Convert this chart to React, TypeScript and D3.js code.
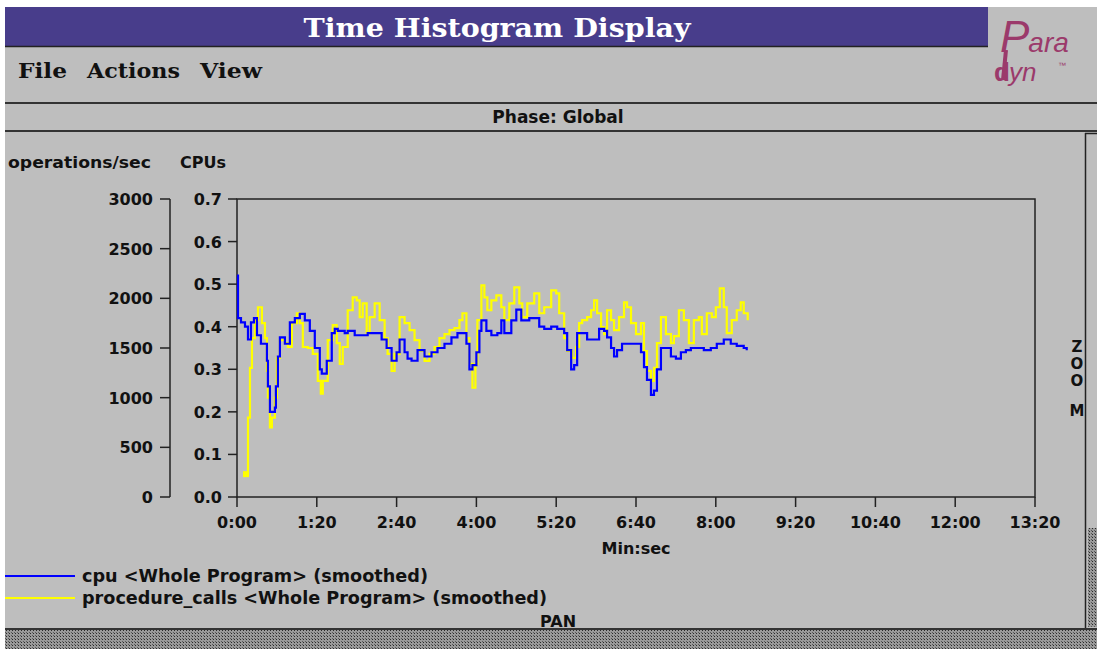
import React from "react";
import * as d3 from "d3";

// cpu <Whole Program> (smoothed): seconds -> CPUs
const cpuTime = [0, 1, 4, 8, 11, 14, 17, 20, 24, 28, 30, 31, 33, 36, 38, 39, 41, 43, 48, 53, 58, 63, 68, 73, 78, 83, 85, 90, 95, 98, 101, 108, 111, 118, 125, 131, 138, 145, 150, 155, 160, 163, 168, 171, 175, 181, 188, 195, 201, 208, 215, 221, 226, 230, 233, 236, 240, 243, 245, 250, 255, 261, 265, 268, 275, 280, 285, 290, 293, 298, 303, 308, 315, 321, 328, 331, 335, 338, 341, 345, 351, 358, 363, 368, 371, 375, 378, 381, 386, 393, 400, 405, 408, 411, 415, 418, 421, 425, 430, 435, 440, 445, 450, 455, 461, 468, 475, 481, 488, 495, 501, 508, 511];
const cpuValues = [0.52, 0.42, 0.41, 0.4, 0.37, 0.41, 0.42, 0.38, 0.36, 0.36, 0.32, 0.26, 0.2, 0.2, 0.21, 0.26, 0.33, 0.375, 0.36, 0.41, 0.42, 0.43, 0.415, 0.39, 0.35, 0.3, 0.29, 0.32, 0.385, 0.395, 0.39, 0.385, 0.39, 0.38, 0.38, 0.385, 0.385, 0.37, 0.35, 0.32, 0.34, 0.37, 0.34, 0.325, 0.32, 0.345, 0.33, 0.34, 0.35, 0.36, 0.375, 0.385, 0.385, 0.36, 0.3, 0.31, 0.34, 0.39, 0.415, 0.39, 0.38, 0.385, 0.415, 0.385, 0.415, 0.44, 0.415, 0.415, 0.42, 0.42, 0.4, 0.395, 0.4, 0.395, 0.385, 0.345, 0.3, 0.31, 0.385, 0.385, 0.37, 0.37, 0.395, 0.39, 0.375, 0.35, 0.33, 0.345, 0.36, 0.36, 0.36, 0.34, 0.305, 0.275, 0.24, 0.25, 0.3, 0.35, 0.35, 0.33, 0.325, 0.34, 0.345, 0.35, 0.35, 0.345, 0.35, 0.36, 0.37, 0.36, 0.355, 0.35, 0.345];

// procedure_calls <Whole Program> (smoothed): seconds -> operations/sec
const callsTime = [7, 10, 11, 13, 15, 18, 21, 25, 28, 30, 31, 33, 35, 38, 40, 43, 48, 51, 55, 60, 63, 66, 71, 76, 81, 84, 86, 91, 96, 100, 103, 106, 111, 116, 120, 123, 126, 130, 133, 138, 143, 148, 151, 155, 158, 163, 168, 173, 178, 183, 188, 193, 198, 203, 208, 213, 218, 223, 226, 230, 233, 236, 239, 241, 245, 248, 251, 255, 260, 265, 268, 273, 278, 283, 286, 291, 298, 303, 308, 315, 320, 323, 328, 331, 336, 340, 343, 346, 351, 355, 358, 361, 365, 368, 371, 375, 378, 383, 388, 391, 395, 400, 405, 408, 411, 415, 418, 421, 425, 430, 435, 438, 443, 448, 453, 458, 463, 466, 471, 476, 480, 484, 488, 491, 496, 501, 505, 508, 512];
const callsValues = [230, 230, 800, 1300, 1600, 1780, 1910, 1750, 1600, 1270, 1000, 700, 800, 1000, 1400, 1580, 1550, 1510, 1750, 1850, 1750, 1510, 1500, 1440, 1170, 1040, 1170, 1580, 1730, 1550, 1340, 1510, 1880, 2010, 1980, 1810, 1950, 1650, 1810, 1950, 1780, 1600, 1440, 1270, 1440, 1810, 1750, 1680, 1580, 1470, 1370, 1440, 1510, 1600, 1640, 1680, 1700, 1780, 1850, 1600, 1340, 1100, 1340, 1780, 2130, 2010, 1880, 1980, 2030, 1910, 1780, 1950, 2110, 1950, 1810, 1950, 2050, 1850, 1910, 2080, 2050, 1850, 1600, 1470, 1400, 1510, 1750, 1780, 1810, 1880, 1980, 1850, 1710, 1640, 1880, 1780, 1680, 1810, 1960, 1910, 1750, 1640, 1750, 1470, 1270, 1170, 1300, 1550, 1810, 1640, 1550, 1620, 1880, 1780, 1550, 1780, 1810, 1640, 1850, 1810, 1910, 2100, 1910, 1650, 1780, 1880, 1960, 1850, 1780];

const timeTicks = [0, 80, 160, 240, 320, 400, 480, 560, 640, 720, 800];
const opsTicks = [0, 500, 1000, 1500, 2000, 2500, 3000];
const cpuTicks = [0, 0.1, 0.2, 0.3, 0.4, 0.5, 0.6, 0.7];
const menuItems = ["File", "Actions", "View"];
const legendItems = [
  { label: "cpu <Whole Program> (smoothed)", color: "#0000ff", width: 346 },
  { label: "procedure_calls <Whole Program> (smoothed)", color: "#ffff00", width: 465 },
];

const W = 1097;
const H = 649;
const bg = "#bebebe";
const ink = "#111";
const logoColor = "#9b3a6b";
const sans = "'DejaVu Sans', sans-serif";
const serif = "'DejaVu Serif', 'Liberation Serif', serif";

const fmtTime = (s: number) => `${Math.floor(s / 60)}:${String(s % 60).padStart(2, "0")}`;

export default function App() {
  const plot = { left: 237, right: 1035, top: 199, bottom: 497 };
  const x = d3.scaleLinear().domain([0, 800]).range([plot.left, plot.right]);
  const yOps = d3.scaleLinear().domain([0, 3000]).range([plot.bottom, plot.top]);
  const yCpu = d3.scaleLinear().domain([0, 0.7]).range([plot.bottom, plot.top]);

  const cpuLine = d3
    .line<number>()
    .x((_, i) => x(cpuTime[i]))
    .y((d) => yCpu(d))
    .curve(d3.curveStepAfter);
  const callsLine = d3
    .line<number>()
    .x((_, i) => x(callsTime[i]))
    .y((d) => yOps(d))
    .curve(d3.curveStepAfter);

  const opsAxisX = 170;
  const menuX = [18, 87, 200];
  const menuW = [49, 93, 62];

  return (
    <div style={{ position: "absolute", left: 0, top: 0 }}>
      <svg width={W} height={H} style={{ display: "block" }}>
        <defs>
          <pattern id="stipple" width="3" height="3" patternUnits="userSpaceOnUse">
            <rect width="3" height="3" fill="#9a9a9a" />
            <rect width="1" height="1" fill="#2a2a2a" />
            <rect x="2" y="2" width="1" height="1" fill="#5a5a5a" />
          </pattern>
        </defs>
        <rect width={W} height={H} fill="#ffffff" />
        <rect x={5} y={7} width={W - 5} height={H - 7} fill={bg} />

        {/* title bar */}
        <rect x={5} y={7} width={983} height={39} fill="#483d8b" />
        <line x1={5} x2={988} y1={46.5} y2={46.5} stroke="#222" strokeWidth={1.5} />
        <text x={497} y={37} textAnchor="middle" fill="#fff" fontFamily={serif} fontWeight="bold" fontSize={26} textLength={387} lengthAdjust="spacingAndGlyphs">
          Time Histogram Display
        </text>

        {/* logo */}
        <line x1={1006} x2={1003} y1={50} y2={80} stroke={logoColor} strokeWidth={4} />
        <text x={1000} y={52} fill={logoColor} fontFamily="'Liberation Sans', sans-serif" fontStyle="italic">
          <tspan fontSize={44}>P</tspan>
          <tspan fontSize={28} dx={-1}>ara</tspan>
        </text>
        <text x={994} y={81} fill={logoColor} fontFamily="'Liberation Sans', sans-serif" fontStyle="italic">
          <tspan fontSize={26} fontStyle="normal" fontWeight="bold">d</tspan>
          <tspan fontSize={26} dx={-1}>yn</tspan>
        </text>
        <text x={1058} y={68} fill={logoColor} fontFamily="'Liberation Sans', sans-serif" fontSize={8}>™</text>

        {/* menu */}
        {menuItems.map((m, i) => (
          <text key={m} x={menuX[i]} y={78} fontFamily={serif} fontWeight="bold" fontSize={20} fill={ink} textLength={menuW[i]} lengthAdjust="spacingAndGlyphs">
            {m}
          </text>
        ))}

        <line x1={5} x2={W} y1={103} y2={103} stroke="#333" strokeWidth={2} />
        <text x={558} y={123} textAnchor="middle" fontFamily={sans} fontWeight="bold" fontSize={17} fill={ink}>
          Phase: Global
        </text>
        <line x1={5} x2={W} y1={131} y2={131} stroke="#333" strokeWidth={2} />

        {/* right zoom panel */}
        <line x1={1085.5} x2={1085.5} y1={133} y2={628} stroke="#222" strokeWidth={1.5} />
        <line x1={1085} x2={W} y1={133.5} y2={133.5} stroke="#222" strokeWidth={1.5} />
        <rect x={1088} y={528} width={9} height={99} fill="url(#stipple)" />
        {["Z", "O", "O", "M"].map((c, i) => (
          <text key={i} x={1077} y={[352, 369, 386, 416][i]} textAnchor="middle" fontFamily={sans} fontWeight="bold" fontSize={15} fill={ink}>
            {c}
          </text>
        ))}

        {/* axis titles */}
        <text x={8} y={168} fontFamily={sans} fontWeight="bold" fontSize={16} fill={ink} textLength={143} lengthAdjust="spacingAndGlyphs">operations/sec</text>
        <text x={180} y={168} fontFamily={sans} fontWeight="bold" fontSize={16} fill={ink}>CPUs</text>

        {/* ops axis */}
        <line x1={opsAxisX} x2={opsAxisX} y1={yOps(3000)} y2={yOps(0)} stroke="#222" strokeWidth={1.5} />
        {opsTicks.map((t) => (
          <g key={t}>
            <line x1={opsAxisX - 10} x2={opsAxisX} y1={yOps(t)} y2={yOps(t)} stroke="#222" strokeWidth={1.5} />
            <text x={153} y={yOps(t) + 6} textAnchor="end" fontFamily={sans} fontWeight="bold" fontSize={16} fill={ink}>
              {t}
            </text>
          </g>
        ))}

        {/* cpu axis */}
        {cpuTicks.map((t) => (
          <g key={t}>
            <line x1={plot.left - 9} x2={plot.left} y1={yCpu(t)} y2={yCpu(t)} stroke="#222" strokeWidth={1.5} />
            <text x={222} y={yCpu(t) + 6} textAnchor="end" fontFamily={sans} fontWeight="bold" fontSize={16} fill={ink}>
              {t.toFixed(1)}
            </text>
          </g>
        ))}

        {/* plot frame */}
        <rect x={plot.left} y={plot.top} width={plot.right - plot.left} height={plot.bottom - plot.top} fill="none" stroke="#222" strokeWidth={1.5} />

        {/* time axis */}
        {timeTicks.map((t) => (
          <g key={t}>
            <line x1={x(t)} x2={x(t)} y1={plot.bottom} y2={plot.bottom + 10} stroke="#222" strokeWidth={1.5} />
            <text x={x(t)} y={528} textAnchor="middle" fontFamily={sans} fontWeight="bold" fontSize={16} fill={ink}>
              {fmtTime(t)}
            </text>
          </g>
        ))}
        <text x={(plot.left + plot.right) / 2} y={554} textAnchor="middle" fontFamily={sans} fontWeight="bold" fontSize={16} fill={ink}>
          Min:sec
        </text>

        {/* series */}
        <path d={callsLine(callsValues) ?? ""} fill="none" stroke="#ffff00" strokeWidth={2.2} />
        <rect x={x(7) - 1} y={yOps(230) - 3} width={6} height={6} fill="#ffff00" />
        <path d={cpuLine(cpuValues) ?? ""} fill="none" stroke="#0000ff" strokeWidth={2.2} />

        {/* legend */}
        {legendItems.map((l, i) => (
          <g key={l.label}>
            <line x1={5} x2={75} y1={576 + i * 22} y2={576 + i * 22} stroke={l.color} strokeWidth={2} />
            <text x={82} y={582 + i * 22} fontFamily={sans} fontWeight="bold" fontSize={17} fill={ink} textLength={l.width} lengthAdjust="spacingAndGlyphs">
              {l.label}
            </text>
          </g>
        ))}
        <text x={558} y={627} textAnchor="middle" fontFamily={sans} fontWeight="bold" fontSize={16} fill={ink}>PAN</text>

        {/* pan bar */}
        <line x1={5} x2={W} y1={629} y2={629} stroke="#333" strokeWidth={2} />
        <rect x={5} y={630} width={W - 5} height={19} fill="url(#stipple)" />
      </svg>
    </div>
  );
}
